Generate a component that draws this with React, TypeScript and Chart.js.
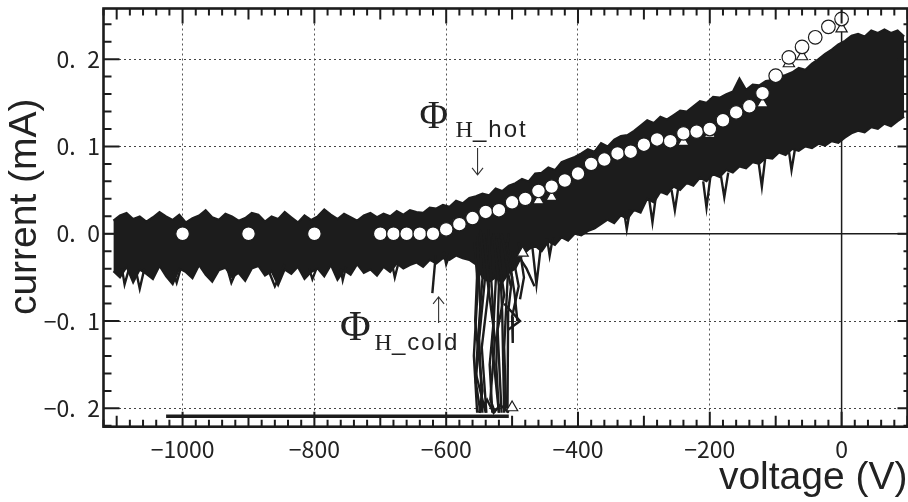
import React, { useEffect, useRef } from 'react';
import { Chart, registerables } from 'chart.js';

Chart.register(...registerables);

// ---------- axes ----------
const X_MIN = -1120;
const X_MAX = 100;
const Y_MIN = -0.221;
const Y_MAX = 0.258;
const X_TICKS = [-1000, -800, -600, -400, -200, 0];
const X_TICK_LABELS = ['\u22121000', '\u2212800', '\u2212600', '\u2212400', '\u2212200', '0'];
const Y_TICKS = [-0.2, -0.1, 0, 0.1, 0.2];
const Y_TICK_LABELS = ['\u22120.\u20022', '\u22120.\u20021', '0.\u20020', '0.\u20021', '0.\u20022'];

// ---------- noisy I-V traces: envelope of the dense band (V, mA) ----------
const BAND_V = [
  -1105, -1095, -1085, -1075, -1065, -1055, -1045, -1035, -1025, -1015,
  -1005, -995, -985, -975, -965, -955, -945, -935, -925, -915,
  -905, -895, -885, -875, -865, -855, -845, -835, -825, -815,
  -805, -795, -785, -775, -765, -755, -745, -735, -725, -715,
  -705,
  -695, -685, -675, -665, -655, -645, -635, -625, -615, -605,
  -595, -585, -575, -565, -555, -545, -535, -525, -515, -505,
  -495, -485, -475, -465, -455, -445, -435, -425, -415, -405,
  -395, -385, -375, -365, -355, -345, -335, -325, -315, -305,
  -295, -285, -275, -265, -255, -245, -235, -225, -215, -205,
  -195, -185, -175, -165, -155, -145, -135, -125, -115, -105,
  -95, -85, -75, -65, -55, -45, -35, -25, -15, -5,
  5, 15, 25, 35, 45, 55, 65, 75, 85, 95,
];
const BAND_TOP = [
  0.015, 0.021, 0.024, 0.017, 0.02, 0.014, 0.019, 0.025, 0.02, 0.016,
  0.022, 0.013, 0.018, 0.021, 0.027, 0.019, 0.016, 0.023, 0.02, 0.015,
  0.018, 0.024, 0.022, 0.014, 0.02, 0.017, 0.025, 0.019, 0.013, 0.021,
  0.016, 0.02, 0.028, 0.022, 0.017, 0.023, 0.019, 0.015, 0.021, 0.024,
  0.019,
  0.023, 0.02, 0.026, 0.022, 0.027, 0.025, 0.024, 0.03, 0.029, 0.033,
  0.031, 0.038, 0.035, 0.041, 0.043, 0.046, 0.044, 0.052, 0.049, 0.055,
  0.058, 0.063, 0.06, 0.069, 0.07, 0.076, 0.073, 0.082, 0.085, 0.088,
  0.092, 0.097, 0.094, 0.104, 0.1, 0.108, 0.112, 0.113, 0.118, 0.124,
  0.13, 0.127, 0.134, 0.131, 0.136, 0.141, 0.14, 0.146, 0.152, 0.15,
  0.157, 0.156, 0.16, 0.163, 0.178, 0.165, 0.171, 0.17, 0.175, 0.176,
  0.18, 0.182, 0.185, 0.19, 0.188, 0.195, 0.2, 0.206, 0.211, 0.217,
  0.221, 0.227, 0.229, 0.226, 0.233, 0.23, 0.234, 0.23, 0.233, 0.226,
];
const BAND_BOTTOM = [
  -0.043, -0.05, -0.038, -0.056, -0.041, -0.046, -0.052, -0.037, -0.049, -0.058,
  -0.04, -0.044, -0.051, -0.036, -0.047, -0.055, -0.042, -0.039, -0.05, -0.045,
  -0.054, -0.04, -0.037, -0.048, -0.043, -0.059, -0.041, -0.046, -0.038, -0.052,
  -0.044, -0.04, -0.049, -0.036, -0.053, -0.042, -0.047, -0.035, -0.045, -0.041,
  -0.048,
  -0.038, -0.044, -0.034, -0.04, -0.036, -0.033, -0.038, -0.03, -0.034, -0.028,
  -0.03, -0.025, -0.028, -0.03, -0.035, -0.05, -0.055, -0.05, -0.056, -0.045,
  -0.04, -0.025, -0.018, -0.014, -0.02, -0.009, -0.013, -0.004, -0.008, 0.0,
  -0.002, 0.003, 0.006, 0.011, 0.016, 0.012, 0.021, 0.017, 0.027, 0.024,
  0.04, 0.036, 0.048, 0.045, 0.054, 0.05, 0.058, 0.055, 0.064, 0.06,
  0.068, 0.065, 0.073, 0.07, 0.077, 0.075, 0.082, 0.08, 0.087, 0.086,
  0.093, 0.09, 0.097, 0.095, 0.1, 0.098, 0.103, 0.101, 0.106, 0.104,
  0.11, 0.115, 0.118, 0.116, 0.122, 0.12, 0.126, 0.123, 0.129, 0.134,
];

// individual excursions that stick out of the band (V, mA)
const SPIKES: number[][][] = [
  [[-1092, -0.04], [-1088, -0.058], [-1082, -0.042]],
  [[-1070, -0.045], [-1065, -0.063], [-1058, -0.04]],
  [[-1015, -0.042], [-1009, -0.056], [-1003, -0.04]],
  [[-932, -0.04], [-926, -0.056], [-918, -0.042]],
  [[-868, -0.045], [-860, -0.06], [-845, -0.035]],
  [[-808, -0.04], [-803, -0.052], [-797, -0.04]],
  [[-760, -0.04], [-757, -0.053], [-752, -0.038]],
  [[-682, -0.035], [-678, -0.05], [-672, -0.032]],
  [[-616, -0.025], [-621, -0.068]],
  [[-604, -0.02], [-600, -0.035], [-594, -0.022]],
  [[-470, -0.01], [-463, -0.058], [-456, -0.012]],
  [[-447, -0.005], [-443, -0.025], [-438, -0.004]],
  [[-330, 0.025], [-326, 0.005], [-321, 0.028]],
  [[-292, 0.04], [-287, 0.013], [-282, 0.042]],
  [[-258, 0.05], [-253, 0.027], [-248, 0.052]],
  [[-210, 0.06], [-205, 0.03], [-199, 0.066]],
  [[-183, 0.066], [-178, 0.042], [-172, 0.07]],
  [[-126, 0.082], [-121, 0.054], [-116, 0.086]],
  [[-80, 0.095], [-76, 0.073], [-71, 0.096]],
];

// cold-cathode traces falling to the saturation floor (V, mA)
const COLD_TRACES: number[][][] = [
  [[-557, -0.01], [-552, -0.06], [-558, -0.14], [-553, -0.205]],
  [[-553, 0.0], [-548, -0.09], [-555, -0.17], [-548, -0.205]],
  [[-548, 0.005], [-541, -0.05], [-550, -0.12], [-545, -0.205]],
  [[-543, 0.0], [-535, -0.06], [-546, -0.13], [-539, -0.205]],
  [[-540, -0.005], [-548, -0.08], [-555, -0.16], [-540, -0.205]],
  [[-536, 0.005], [-528, -0.1], [-534, -0.15], [-530, -0.205]],
  [[-532, 0.0], [-538, -0.05], [-526, -0.12], [-533, -0.19], [-526, -0.205]],
  [[-528, 0.0], [-520, -0.06], [-524, -0.15], [-520, -0.205]],
  [[-524, -0.005], [-512, -0.07], [-522, -0.11], [-516, -0.205]],
  [[-520, -0.005], [-515, -0.09], [-512, -0.205]],
  [[-516, 0.0], [-506, -0.04], [-512, -0.13], [-509, -0.2]],
  [[-512, -0.01], [-500, -0.05], [-506, -0.09], [-507, -0.205]],
  [[-508, -0.01], [-496, -0.07], [-492, -0.1]],
  [[-512, -0.08], [-488, -0.1], [-506, -0.11]],
  [[-500, -0.02], [-490, -0.06], [-500, -0.095], [-499, -0.125]],
  [[-495, -0.02], [-478, -0.04], [-466, -0.06]],
  [[-490, -0.01], [-482, -0.05], [-488, -0.075]],
  [[-550, -0.205], [-538, -0.19], [-528, -0.205], [-518, -0.196], [-505, -0.205]],
  [[-551, -0.01], [-556, -0.1], [-545, -0.18], [-550, -0.205]],
  [[-521, 0.0], [-530, -0.13], [-520, -0.205]],
  [[-505, 0.0], [-510, -0.03], [-502, -0.06]],
];
const FLOOR_V = [-1025, -505];
const FLOOR_I = [-0.209, -0.209];

// ---------- markers ----------
const HOT_V = [
  -1000, -900, -800, -700, -680, -660, -640, -620, -600, -580,
  -560, -540, -520, -500, -480, -460, -440, -420, -400, -380,
  -360, -340, -320, -300, -280, -260, -240, -220, -200, -180,
  -160, -140, -120, -100, -80, -60, -40, -20, 0,
];
const HOT_I = [
  0.0, 0.0, 0.0, 0.0, 0.0, 0.0, 0.0, 0.0, 0.005, 0.011,
  0.018, 0.025, 0.027, 0.036, 0.04, 0.049, 0.054, 0.061, 0.069, 0.08,
  0.085, 0.092, 0.094, 0.102, 0.108, 0.106, 0.115, 0.117, 0.12, 0.13,
  0.139, 0.146, 0.161, 0.181, 0.202, 0.214, 0.225, 0.237, 0.246,
];
const COLD_V = [-500, -484, -460, -440, -240, -200, -120, -80, -60, 0];
const COLD_I = [-0.199, -0.022, 0.038, 0.042, 0.105, 0.114, 0.149, 0.195, 0.203, 0.235];

// ---------- annotation layout (data units) ----------
const ANNOTATIONS = [
  { phi: [-619, 0.1213], phiSize: 39, sub: [-585.7, 0.111], text: '_hot', arrow: [-552.4, 0.0982, 0.0674] },
  { phi: [-738, -0.1217], phiSize: 42, sub: [-708.6, -0.1332], text: '_cold', arrow: [-611.5, -0.1022, -0.0724] },
];

const INK = '#1c1c1c';

const pts = (xs: number[], ys: number[]) => xs.map((x, i) => ({ x, y: ys[i] }));
const poly = (p: number[][]) => p.map(([x, y]) => ({ x, y }));

const lineDs = (data: any[], width: number, order: number, extra: any = {}) => ({
  data,
  borderColor: INK,
  backgroundColor: INK,
  borderWidth: width,
  pointRadius: 0,
  pointHoverRadius: 0,
  tension: 0,
  fill: false,
  order,
  ...extra,
});

const zeroPad = (s: any) => {
  s.paddingTop = 0;
  s.paddingBottom = 0;
  s.paddingLeft = 0;
  s.paddingRight = 0;
};

const framePlugin = {
  id: 'frameTicks',
  afterDatasetsDraw(chart: any) {
    const { ctx, chartArea: a, scales } = chart;
    const x = scales.x;
    const y = scales.y;
    ctx.save();
    ctx.strokeStyle = INK;
    ctx.lineWidth = 2;
    ctx.beginPath();
    for (let v = X_MIN; v <= X_MAX; v += 20) {
      const px = x.getPixelForValue(v);
      const len = v % 200 === 0 ? 15 : v % 100 === 0 ? 11 : 7;
      ctx.moveTo(px, a.bottom);
      ctx.lineTo(px, a.bottom - len);
      ctx.moveTo(px, a.top);
      ctx.lineTo(px, a.top + len);
    }
    for (let k = -11; k <= 12; k++) {
      const py = y.getPixelForValue(k * 0.02);
      const major = k % 5 === 0;
      ctx.moveTo(a.left, py);
      ctx.lineTo(a.left + (major ? 16 : 8), py);
      ctx.moveTo(a.right, py);
      ctx.lineTo(a.right - (major ? 10 : 4), py);
    }
    ctx.stroke();
    ctx.lineWidth = 2.6;
    ctx.strokeRect(a.left, a.top, a.right - a.left, a.bottom - a.top);
    ctx.restore();
  },
};

const annotationPlugin = {
  id: 'phiLabels',
  afterDatasetsDraw(chart: any) {
    const { ctx, scales } = chart;
    const x = scales.x;
    const y = scales.y;
    ctx.save();
    ctx.fillStyle = '#222';
    ctx.strokeStyle = '#333';
    ANNOTATIONS.forEach((an) => {
      ctx.textBaseline = 'alphabetic';
      ctx.textAlign = 'center';
      ctx.font = `${an.phiSize}px "Liberation Serif", "DejaVu Serif", serif`;
      ctx.fillText('\u03A6', x.getPixelForValue(an.phi[0]), y.getPixelForValue(an.phi[1]));
      ctx.textAlign = 'left';
      const sx = x.getPixelForValue(an.sub[0]);
      const sy = y.getPixelForValue(an.sub[1]);
      ctx.font = '24px "Liberation Serif", serif';
      ctx.fillText('H', sx, sy);
      const hw = ctx.measureText('H').width;
      ctx.font = '24px "Liberation Sans", Arial, sans-serif';
      (ctx as any).letterSpacing = '2px';
      ctx.fillText(an.text, sx + hw, sy);
      (ctx as any).letterSpacing = '0px';
      const ax = x.getPixelForValue(an.arrow[0]);
      const a0 = y.getPixelForValue(an.arrow[1]);
      const a1 = y.getPixelForValue(an.arrow[2]);
      const dir = a1 > a0 ? 1 : -1;
      ctx.lineWidth = 1.1;
      ctx.beginPath();
      ctx.moveTo(ax, a0);
      ctx.lineTo(ax, a1);
      ctx.moveTo(ax - 5.5, a1 - dir * 7);
      ctx.lineTo(ax, a1);
      ctx.lineTo(ax + 5.5, a1 - dir * 7);
      ctx.stroke();
    });
    ctx.restore();
  },
};

export default function App() {
  const ref = useRef<HTMLCanvasElement | null>(null);

  useEffect(() => {
    if (!ref.current) return;
    const datasets: any[] = [];
    datasets.push(lineDs(pts([X_MIN, X_MAX], [0, 0]), 1.5, 6));
    datasets.push(lineDs(pts([0, 0], [Y_MIN, Y_MAX]), 1.5, 6));
    datasets.push(lineDs(pts(BAND_V, BAND_BOTTOM), 2, 4));
    datasets.push(lineDs(pts(BAND_V, BAND_TOP), 2, 4, { fill: '-1' }));
    SPIKES.forEach((s) => datasets.push(lineDs(poly(s), 2.4, 3)));
    COLD_TRACES.forEach((s) => datasets.push(lineDs(poly(s), 2.4, 3)));
    datasets.push(lineDs(pts(FLOOR_V, FLOOR_I), 3.5, 3));
    datasets.push({
      data: pts(COLD_V, COLD_I),
      showLine: false,
      pointStyle: 'triangle',
      pointRadius: 6.5,
      pointBorderWidth: 1.2,
      pointBackgroundColor: '#ffffff',
      pointBorderColor: INK,
      borderColor: INK,
      order: 1,
    });
    datasets.push({
      data: pts(HOT_V, HOT_I),
      showLine: false,
      pointStyle: 'circle',
      pointRadius: 6.8,
      pointBorderWidth: 1.2,
      pointBackgroundColor: '#ffffff',
      pointBorderColor: INK,
      borderColor: INK,
      order: 0,
    });

    const chart = new Chart(ref.current, {
      type: 'line',
      data: { datasets },
      options: {
        animation: false,
        responsive: true,
        maintainAspectRatio: false,
        devicePixelRatio: 1,
        layout: { autoPadding: false, padding: { top: 8.5, right: 0.5, left: 0, bottom: 0 } },
        plugins: { legend: { display: false }, tooltip: { enabled: false } },
        events: [],
        scales: {
          x: {
            type: 'linear',
            min: X_MIN,
            max: X_MAX,
            afterFit: (s: any) => { s.height = 75.3; zeroPad(s); },
            afterBuildTicks: (s: any) => { s.ticks = X_TICKS.map((value) => ({ value })); },
            grid: { color: '#555', lineWidth: 1, drawTicks: false },
            border: { display: false, dash: [2, 3] },
            ticks: {
              padding: 9,
              maxRotation: 0,
              autoSkip: false,
              color: '#222',
              font: { family: '"Noto Sans CJK JP", sans-serif', size: 23 },
              callback: (v: any) => X_TICK_LABELS[X_TICKS.indexOf(Number(v))],
            },
            title: {
              display: true,
              text: 'voltage (V)',
              align: 'end',
              color: '#222',
              padding: { top: 0, bottom: 0 },
              font: { family: '"Liberation Sans", Arial, sans-serif', size: 39 },
            },
          },
          y: {
            type: 'linear',
            min: Y_MIN,
            max: Y_MAX,
            afterFit: (s: any) => { s.width = 103.5; zeroPad(s); },
            afterBuildTicks: (s: any) => { s.ticks = Y_TICKS.map((value) => ({ value })); },
            grid: { color: '#444', lineWidth: 1, drawTicks: false },
            border: { display: false, dash: [2, 3] },
            ticks: {
              padding: 3.5,
              autoSkip: false,
              color: '#222',
              font: { family: '"Noto Sans CJK JP", sans-serif', size: 23 },
              callback: (v: any) => Y_TICK_LABELS[Y_TICKS.indexOf(Number(v))],
            },
            title: {
              display: true,
              text: '  current (mA)',
              color: '#222',
              padding: { top: 1.5, bottom: 0 },
              font: { family: '"Liberation Sans", Arial, sans-serif', size: 39 },
            },
          },
        },
      },
      plugins: [annotationPlugin, framePlugin],
    });
    return () => chart.destroy();
  }, []);

  return (
    <div style={{ position: 'fixed', left: 0, top: 0, width: 908, height: 502, background: '#fff' }}>
      <canvas ref={ref} />
    </div>
  );
}
